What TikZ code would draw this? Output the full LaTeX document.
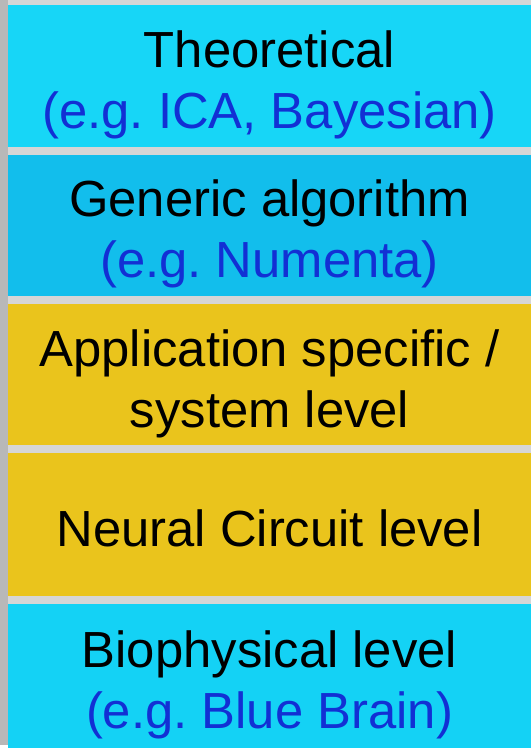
\documentclass[tikz,border=0pt]{standalone}
\usepackage{fontspec}
\setmainfont{Liberation Sans}
\frenchspacing
\definecolor{theocyan}{HTML}{17D6F7}
\definecolor{algocyan}{HTML}{12BEEC}
\definecolor{appgold}{HTML}{EAC41C}
\definecolor{biocyan}{HTML}{14D2F5}
\definecolor{egblue}{HTML}{1230D4}
\definecolor{gapgray}{HTML}{D6D6D6}
\definecolor{edgegray}{HTML}{B8B8B8}

\begin{document}
\begin{tikzpicture}[x=1pt,y=-1pt]
\tikzstyle{every node}+=[inner sep=0pt]
\tikzstyle{tier}=[draw=none, minimum width=525pt, minimum height=142pt, anchor=north west]
\tikzstyle{words}=[font=\fontsize{51}{61}\selectfont, align=center]
\fill [gapgray] (0,0) rectangle (533,748);
\fill [edgegray] (0,0) rectangle (8,748);
\node [tier, fill=theocyan] (theo) at (8,5) {};
\node [words] (theotext) at ([yshift=-9pt]theo.center) {Theoretical\\\textcolor{egblue}{(e.g. ICA, Bayesian)}};
\node [tier, fill=algocyan] (algo) at (8,155) {};
\node [words] (algotext) at ([yshift=-9pt]algo.center) {Generic algorithm\\\textcolor{egblue}{(e.g. Numenta)}};
\node [tier, fill=appgold] (app) at (8,305) {};
\node [words] (apptext) at ([yshift=-9pt]app.center) {Application specific /\\system level};
\node [tier, fill=appgold, minimum height=143pt] (circ) at (8,455) {};
\node [words] (circtext) at ([yshift=-4pt]circ.center) {Neural Circuit level};
\node [tier, fill=biocyan, minimum height=145pt] (bio) at (8,606) {};
\node [words] (biotext) at ([yshift=-9pt]bio.center) {Biophysical level\\\textcolor{egblue}{(e.g. Blue Brain)}};
\end{tikzpicture}
\end{document}
